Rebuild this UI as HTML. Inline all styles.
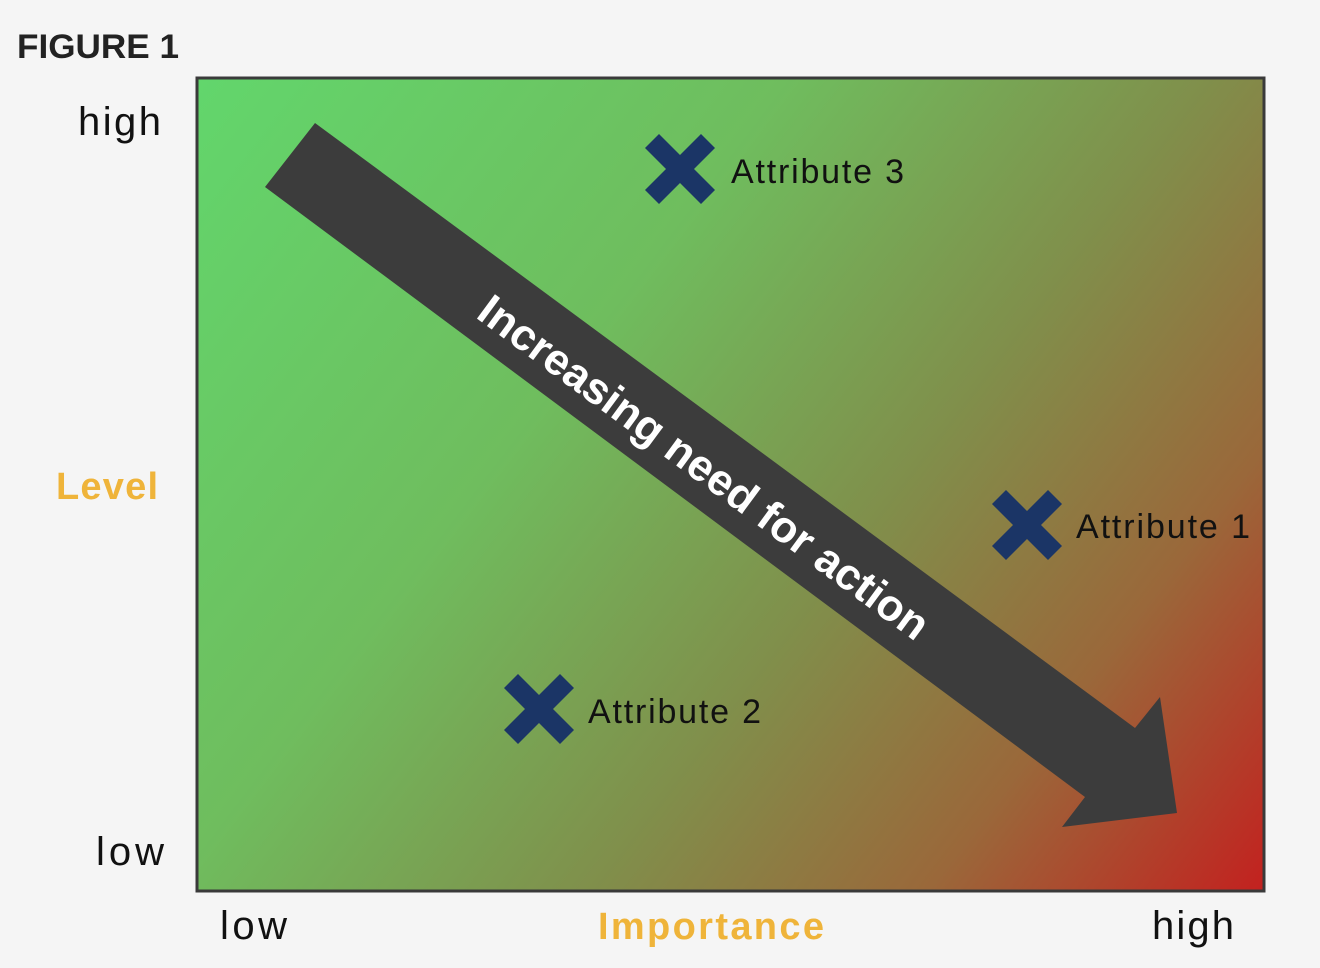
<!DOCTYPE html>
<html><head><meta charset="utf-8"><style>
body{margin:0;background:#f5f5f5;}
</style></head><body>
<svg width="1320" height="968" xmlns="http://www.w3.org/2000/svg" style="display:block">
<defs>
<linearGradient id="g" x1="197" y1="78" x2="1264" y2="891" gradientUnits="userSpaceOnUse">
<stop offset="0" stop-color="#62d66c"/>
<stop offset="0.35" stop-color="#6fbd5e"/>
<stop offset="0.6" stop-color="#808f4b"/>
<stop offset="0.8" stop-color="#9a683a"/>
<stop offset="1" stop-color="#c3211f"/>
</linearGradient>
<g id="x"><path d="M-21,-35 L0,-14 L21,-35 L35,-21 L14,0 L35,21 L21,35 L0,14 L-21,35 L-35,21 L-14,0 L-35,-21 Z" fill="#1b3566"/></g>
</defs>
<rect x="0" y="0" width="1320" height="968" fill="#f5f5f5"/>
<text x="17" y="58" font-family="Liberation Sans, sans-serif" font-weight="bold" font-size="34" fill="#222" textLength="162" lengthAdjust="spacingAndGlyphs">FIGURE 1</text>
<rect x="197" y="78" width="1067" height="813" fill="url(#g)" stroke="#3a3a3a" stroke-width="3"/>
<polygon points="315,123 1135,728 1160,697 1177,813 1062,827 1085,797 265,187" fill="#3c3c3c"/>
<text transform="translate(702,470) rotate(36.4)" text-anchor="middle" dominant-baseline="middle" font-family="Liberation Sans, sans-serif" font-weight="bold" font-size="44" fill="#fff">Increasing need for action</text>
<use href="#x" x="680" y="169"/>
<use href="#x" x="1027" y="525"/>
<use href="#x" x="539" y="709"/>
<g font-family="Liberation Sans, sans-serif" font-size="34" fill="#111" lengthAdjust="spacingAndGlyphs">
<text x="731" y="183" textLength="173">Attribute 3</text>
<text x="1076" y="538" textLength="174">Attribute 1</text>
<text x="588" y="723" textLength="173">Attribute 2</text>
</g>
<g font-family="Liberation Sans, sans-serif" font-size="40" fill="#111" lengthAdjust="spacingAndGlyphs">
<text x="78" y="135" textLength="83">high</text>
<text x="96" y="865" textLength="68">low</text>
<text x="220" y="939" textLength="67">low</text>
<text x="1152" y="939" textLength="82">high</text>
</g>
<g font-family="Liberation Sans, sans-serif" font-size="38" font-weight="bold" fill="#efb43a" lengthAdjust="spacingAndGlyphs">
<text x="56" y="499" textLength="102">Level</text>
<text x="598" y="939" textLength="226">Importance</text>
</g>
</svg>
</body></html>
